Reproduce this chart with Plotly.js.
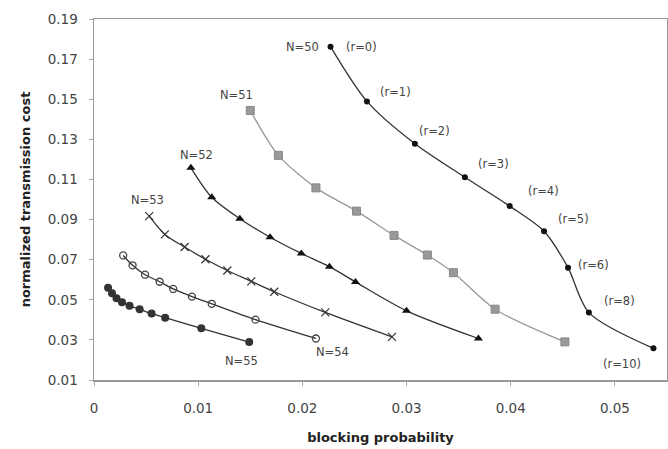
<!DOCTYPE html>
<html>
<head>
<meta charset="utf-8">
<script src="https://cdn.plot.ly/plotly-3.0.1.min.js"></script>
<style>html,body{margin:0;padding:0;background:#fff;}#chart{width:668px;height:449px;}</style>
</head>
<body>
<div id="chart"></div>
<script>
// blocking probability (x) and normalized transmission cost (y) per curve
const n50_x = [0.0227, 0.0262, 0.0308, 0.0356, 0.0399, 0.0432, 0.0455, 0.0475, 0.0537];
const n50_y = [0.1762, 0.1489, 0.1278, 0.1111, 0.0967, 0.0842, 0.0660, 0.0436, 0.0258];
const n50_r = ["(r=0)", "(r=1)", "(r=2)", "(r=3)", "(r=4)", "(r=5)", "(r=6)", "(r=8)", "(r=10)"];

const n51_x = [0.0150, 0.0177, 0.0213, 0.0252, 0.0288, 0.0320, 0.0345, 0.0385, 0.0452];
const n51_y = [0.1444, 0.1220, 0.1058, 0.0942, 0.0821, 0.0723, 0.0635, 0.0453, 0.0290];

const n52_x = [0.0093, 0.0113, 0.0140, 0.0169, 0.0199, 0.0226, 0.0251, 0.0300, 0.0369];
const n52_y = [0.1158, 0.1011, 0.0904, 0.0812, 0.0731, 0.0665, 0.0589, 0.0445, 0.0307];

const n53_x = [0.0053, 0.0068, 0.0087, 0.0107, 0.0128, 0.0151, 0.0173, 0.0222, 0.0286];
const n53_y = [0.0917, 0.0826, 0.0763, 0.0702, 0.0646, 0.0592, 0.0540, 0.0437, 0.0315];

const n54_x = [0.0028, 0.0037, 0.0049, 0.0063, 0.0076, 0.0094, 0.0113, 0.0155, 0.0213];
const n54_y = [0.0721, 0.0672, 0.0625, 0.0590, 0.0554, 0.0516, 0.0480, 0.0401, 0.0307];

const n55_x = [0.00135, 0.00173, 0.00216, 0.00269, 0.00341, 0.00438, 0.00553, 0.00683, 0.0103, 0.0149];
const n55_y = [0.0560, 0.0533, 0.0508, 0.0488, 0.0470, 0.0453, 0.0431, 0.0411, 0.0358, 0.0289];

const xTicks = [0, 0.01, 0.02, 0.03, 0.04, 0.05];
const xTickText = ["0", "0.01", "0.02", "0.03", "0.04", "0.05"];
const yTicks = [0.01, 0.03, 0.05, 0.07, 0.09, 0.11, 0.13, 0.15, 0.17, 0.19];

const seriesNames = ["N=50", "N=51", "N=52", "N=53", "N=54", "N=55"];

const lineBase = {shape: 'spline', smoothing: 0.8, width: 1.3};
const traces = [
  {x: n50_x, y: n50_y, name: seriesNames[0], mode: 'lines+markers',
   line: Object.assign({}, lineBase, {color: '#333'}),
   marker: {symbol: 'circle', size: 6, color: '#111'}},
  {x: n51_x, y: n51_y, name: seriesNames[1], mode: 'lines+markers',
   line: Object.assign({}, lineBase, {color: '#999'}),
   marker: {symbol: 'square', size: 8, color: '#999', line: {color: '#888', width: 1}}},
  {x: n52_x, y: n52_y, name: seriesNames[2], mode: 'lines+markers',
   line: Object.assign({}, lineBase, {color: '#333'}),
   marker: {symbol: 'triangle-up', size: 8, color: '#111'}},
  {x: n53_x, y: n53_y, name: seriesNames[3], mode: 'lines+markers',
   line: Object.assign({}, lineBase, {color: '#333'}),
   marker: {symbol: 'x-thin', size: 8, line: {color: '#333', width: 1.2}}},
  {x: n54_x, y: n54_y, name: seriesNames[4], mode: 'lines+markers',
   line: Object.assign({}, lineBase, {color: '#333'}),
   marker: {symbol: 'circle-open', size: 7, color: '#444', line: {width: 1.3}}},
  {x: n55_x, y: n55_y, name: seriesNames[5], mode: 'lines+markers',
   line: Object.assign({}, lineBase, {color: '#333'}),
   marker: {symbol: 'circle', size: 8, color: '#333'}}
];

const labelFont = {family: 'DejaVu Sans, sans-serif', size: 11.5, color: '#444'};
function ann(text, x, y) {
  return {text: text, x: x, y: y, xref: 'x', yref: 'y', showarrow: false, font: labelFont};
}
// r labels placed beside each N=50 point
const rOffsets = [[0.0030, 0], [0.0027, 0.0048], [0.0019, 0.0065], [0.0027, 0.0068], [0.0032, 0.0073], [0.0028, 0.0063], [0.0024, 0.0012], [0.0029, 0.0057], [-0.0030, -0.0079]];
const annotations = n50_r.map((t, i) => ann(t, n50_x[i] + rOffsets[i][0], n50_y[i] + rOffsets[i][1]));
annotations.push(ann(seriesNames[0], 0.0200, 0.1761));
annotations.push(ann(seriesNames[1], 0.0137, 0.1522));
annotations.push(ann(seriesNames[2], 0.0098, 0.1224));
annotations.push(ann(seriesNames[3], 0.0051, 0.1000));
annotations.push(ann(seriesNames[4], 0.0229, 0.0239));
annotations.push(ann(seriesNames[5], 0.0142, 0.0194));

const tickFont = {family: 'DejaVu Sans, sans-serif', size: 13.5, color: '#444'};
const titleFont = {family: 'DejaVu Sans, sans-serif', size: 13, color: '#222', weight: 'bold'};

const layout = {
  width: 668, height: 449,
  margin: {l: 94, r: 1, t: 19, b: 69},
  paper_bgcolor: '#fff', plot_bgcolor: '#fff',
  showlegend: false,
  xaxis: {
    range: [0, 0.055], tickvals: xTicks, ticktext: xTickText,
    showgrid: false, zeroline: false, showline: true, mirror: true,
    linecolor: '#999', linewidth: 1.5, ticks: 'outside', ticklen: 4, tickcolor: '#aaa',
    tickfont: tickFont, ticklabelstandoff: 11,
    title: {text: 'blocking probability', font: titleFont, standoff: 18}
  },
  yaxis: {
    range: [0.01, 0.19], tickvals: yTicks, tickformat: '.2f',
    showgrid: false, zeroline: false, showline: true, mirror: true,
    linecolor: '#999', linewidth: 1.5, ticks: 'outside', ticklen: 4, tickcolor: '#aaa',
    tickfont: tickFont, ticklabelstandoff: 8,
    title: {text: 'normalized transmission cost', font: titleFont, standoff: 14}
  },
  annotations: annotations
};

Plotly.newPlot('chart', traces, layout, {displayModeBar: false, staticPlot: true});
</script>
</body>
</html>
